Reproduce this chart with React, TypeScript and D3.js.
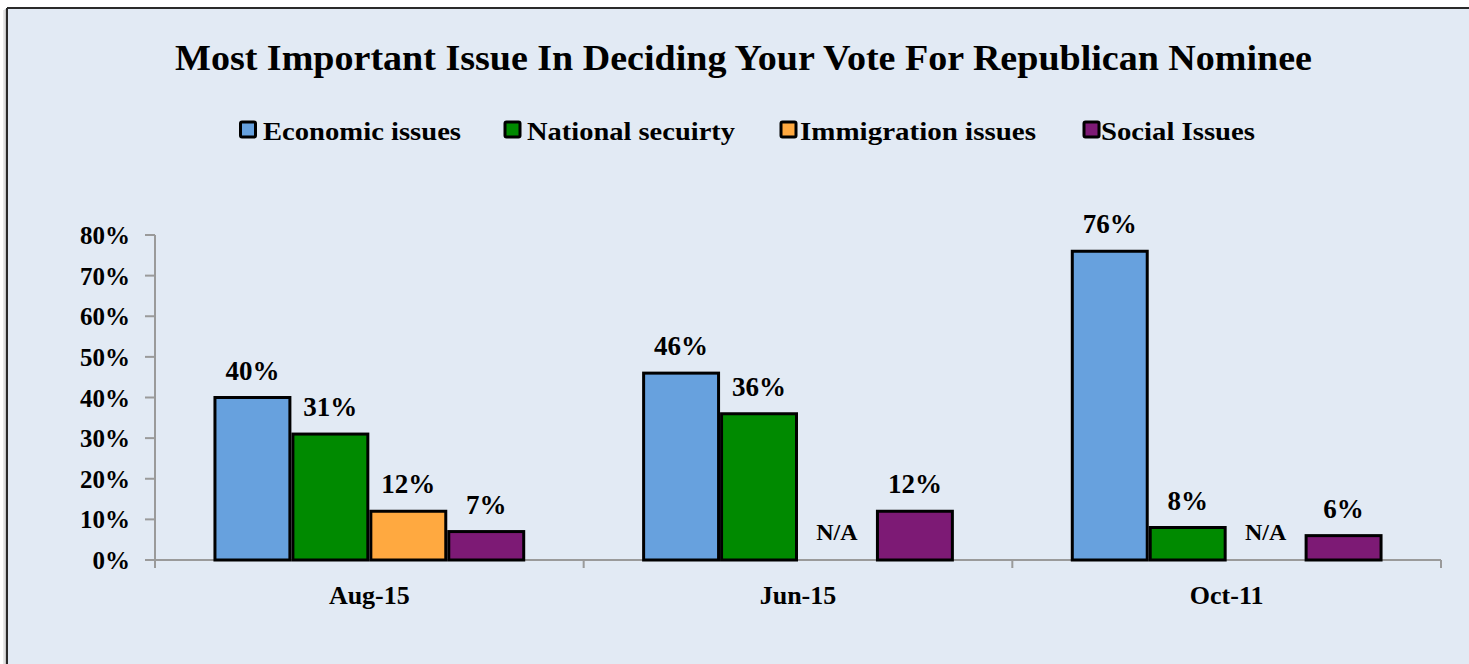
import React from "react";
import * as d3 from "d3";

const categories = ["Aug-15", "Jun-15", "Oct-11"];
const seriesNames = ["Economic issues", "National secuirty", "Immigration issues", "Social Issues"];
const seriesColors = ["#67A1DE", "#008A00", "#FFA940", "#7D1A75"];
const economic = [40, 46, 76];
const nationalSecurity = [31, 36, 8];
const immigration: (number | null)[] = [12, null, null];
const social = [7, 12, 6];
const yTicks = [0, 10, 20, 30, 40, 50, 60, 70, 80];
const title = "Most Important Issue In Deciding Your Vote For Republican Nominee";

const seriesValues = [economic, nationalSecurity, immigration, social];

const FONT = "'Liberation Serif', 'Times New Roman', serif";

export default function App() {
  const W = 1469, H = 664;
  const left = 155, right = 1441, top = 235, bottom = 560;
  const x0 = d3.scaleBand<string>().domain(categories).range([left, right]).paddingInner(0).paddingOuter(0);
  const x1 = d3.scaleBand<string>().domain(seriesNames).range([0, x0.bandwidth()]).paddingInner(0).paddingOuter(0.75);
  const y = d3.scaleLinear().domain([0, 80]).range([bottom, top]);

  const legendSq = [240.5, 505, 781, 1084];
  const legendTx = [263, 527, 800, 1101];
  const legendLen = [198, 208, 236, 154];

  const tickBoundaries = [...categories.map((c) => x0(c) as number), right];

  return (
    <div style={{ position: "fixed", left: 0, top: 0, width: W, height: H, overflow: "hidden" }}>
      <svg width={W} height={H} style={{ display: "block" }} fontFamily={FONT}>
        <rect x={0} y={0} width={W} height={H} fill="#ffffff" />
        {/* soft shadow on left edge */}
        <line x1={4} x2={4} y1={10} y2={H} stroke="#e8e8e8" strokeWidth={2} />
        <line x1={5.5} x2={5.5} y1={9} y2={H} stroke="#c8c8c8" strokeWidth={1.5} />
        <rect x={7} y={8} width={W - 7} height={H - 8} fill="#E2EAF4" />
        <line x1={7} x2={W} y1={8} y2={8} stroke="#2a2a2a" strokeWidth={2} />
        <line x1={7} x2={7} y1={8} y2={H} stroke="#2a2a2a" strokeWidth={2} />

        <text x={175} y={70} fontSize={35} fontWeight="bold" textLength={1137} lengthAdjust="spacingAndGlyphs" fill="#000">{title}</text>

        {seriesNames.map((s, i) => (
          <g key={s}>
            <rect x={legendSq[i]} y={122} width={15} height={15} rx={1.5} fill={seriesColors[i]} stroke="#000" strokeWidth={3} />
            <text x={legendTx[i]} y={140} fontSize={26} fontWeight="bold" textLength={legendLen[i]} lengthAdjust="spacingAndGlyphs" fill="#000">{s}</text>
          </g>
        ))}

        {/* y axis */}
        <line x1={left} x2={left} y1={top} y2={bottom + 8} stroke="#9a9a9a" strokeWidth={2} />
        {yTicks.map((t) => (
          <g key={t}>
            <line x1={left - 10} x2={left} y1={y(t)} y2={y(t)} stroke="#9a9a9a" strokeWidth={2} />
            <text x={130} y={y(t) + 9} textAnchor="end" fontSize={25} fontWeight="bold" fill="#000">{`${t}%`}</text>
          </g>
        ))}

        {/* x axis */}
        <line x1={left} x2={right} y1={bottom} y2={bottom} stroke="#9a9a9a" strokeWidth={2} />
        {tickBoundaries.map((b, i) => (
          <line key={i} x1={b} x2={b} y1={bottom} y2={bottom + 8} stroke="#9a9a9a" strokeWidth={2} />
        ))}
        {categories.map((c) => (
          <text key={c} x={(x0(c) as number) + x0.bandwidth() / 2} y={604} textAnchor="middle" fontSize={26} fontWeight="bold" fill="#000">{c}</text>
        ))}

        {/* bars */}
        {categories.map((c, ci) => (
          <g key={c} transform={`translate(${x0(c)},0)`}>
            {seriesNames.map((s, si) => {
              const v = seriesValues[si][ci];
              const bx = x1(s) as number;
              const cx = bx + x1.bandwidth() / 2;
              if (v === null || v === undefined) {
                return (
                  <text key={s} x={cx} y={540} textAnchor="middle" fontSize={24} fontWeight="bold" fill="#000">N/A</text>
                );
              }
              return (
                <g key={s}>
                  <rect x={bx + 1.5} y={y(v)} width={x1.bandwidth() - 3} height={bottom - y(v)} fill={seriesColors[si]} stroke="#000" strokeWidth={3} />
                  <text x={cx} y={y(v) - 18} textAnchor="middle" fontSize={27} fontWeight="bold" fill="#000">{`${v}%`}</text>
                </g>
              );
            })}
          </g>
        ))}
      </svg>
    </div>
  );
}
